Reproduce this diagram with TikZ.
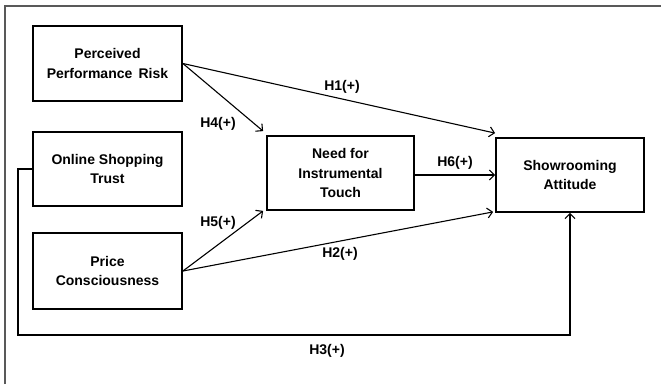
\documentclass[tikz,border=0pt]{standalone}
\usepackage{fontspec}
\setmainfont{Liberation Sans}
\usepackage{tikz}
\usetikzlibrary{arrows.meta}

\begin{document}
\begin{tikzpicture}[x=1pt, y=-1pt, font=\fontsize{14}{19.5}\selectfont\bfseries,
  var/.style={draw, line width=1.8pt, align=center, inner sep=0pt},
  link/.style={-{Straight Barb[length=5pt, width=10pt, line width=1.1pt]}, line width=1.1pt},
  hyp/.style={inner sep=1pt}]
\useasboundingbox (0,0) rectangle (661,384);
\draw[gray!70!black, line width=1.2pt] (5,384) -- (5,6) -- (661,6);

\node (ppr) at (107.5, 63.5) [var, minimum width=149, minimum height=75] {Perceived\\Performance\, Risk};
\node (ost) at (107.5, 169) [var, minimum width=149, minimum height=74] {Online Shopping\\Trust};
\node (pc) at (107.5, 271) [var, minimum width=149, minimum height=76] {Price\\Consciousness};
\node (nit) at (340.5, 173) [var, minimum width=147, minimum height=74] {Need for\\Instrumental\\Touch};
\node (sa) at (570, 175) [var, minimum width=148, minimum height=74] {Showrooming\\Attitude};

\coordinate (bend) at (18, 335);

\draw[link] (ppr.east) -- ([shift={(0,-4)}]sa.north west);
\draw[link] (ppr.east) -- ([shift={(-3,-4)}]nit.north west);
\draw[link] (nit.east |- sa.west) -- (sa.west);
\draw[link] (pc.east) -- ([shift={(-3,0)}]nit.south west);
\draw[link] (pc.east) -- ([shift={(-2,-1)}]sa.south west);
\draw[link] (ost.west) -| (bend) -| (sa.south);

\node (h1) at (342, 87) [hyp] {H1(+)};
\node (h4) at (218, 124) [hyp] {H4(+)};
\node (h6) at (455, 163) [hyp] {H6(+)};
\node (h5) at (218, 223) [hyp] {H5(+)};
\node (h2) at (340, 254) [hyp] {H2(+)};
\node (h3) at (327, 351) [hyp] {H3(+)};
\end{tikzpicture}
\end{document}
